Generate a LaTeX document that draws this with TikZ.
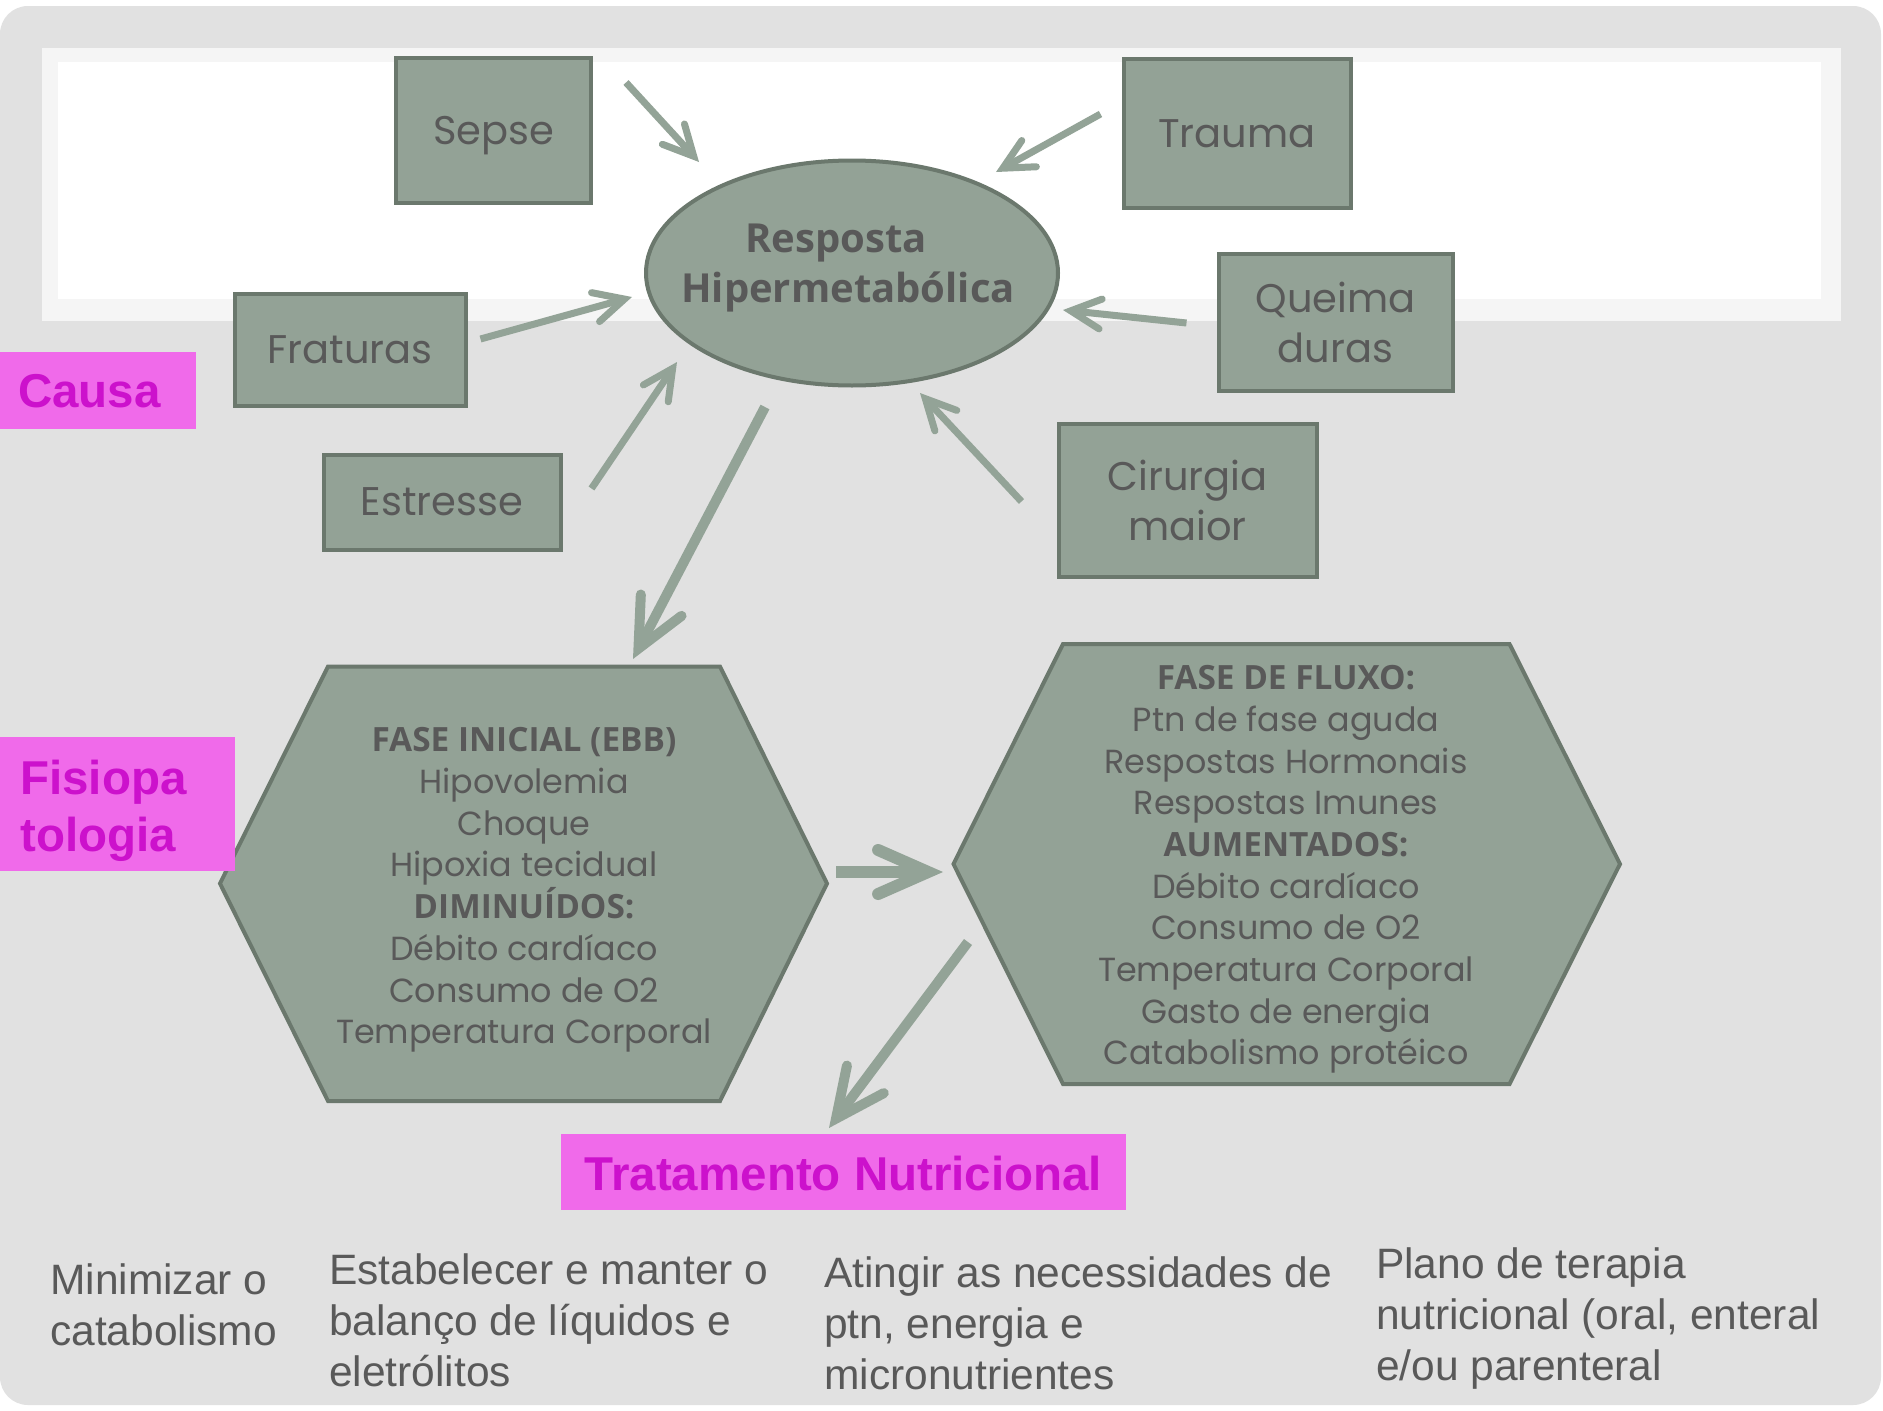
\documentclass[tikz,border=0pt]{standalone}
\usepackage{fontspec}
\setmainfont{Poppins}
\newfontfamily\hexbf{Open Sans}
\newfontfamily\ellf{Open Sans}
\newfontfamily\arialf{Liberation Sans}
\usetikzlibrary{arrows.meta,calc,shapes.geometric}
\definecolor{bgpage}{HTML}{E1E1E1}
\definecolor{bandlight}{HTML}{F5F5F5}
\definecolor{boxfill}{HTML}{93A296}
\definecolor{boxline}{HTML}{6B786D}
\definecolor{arrcol}{HTML}{93A397}
\definecolor{txtgray}{HTML}{595959}
\definecolor{pinkfill}{HTML}{F06AEA}
\definecolor{pinktext}{HTML}{CC11CC}
\tikzset{
  causebox/.style={draw=boxline, fill=boxfill, line width=4pt, inner sep=0pt, text=txtgray, align=center, font=\fontsize{40}{50}\selectfont},
  hexshape/.style={draw=boxline, fill=boxfill, line width=4pt, line join=miter},
  hextext/.style={text=txtgray, align=center, inner sep=0pt, font=\fontsize{33.4}{41.7}\selectfont},
  arrsmall/.style={draw=arrcol, line width=7pt, -{Straight Barb[length=30pt,width=30pt,line cap=round,line join=miter]}},
  arrbig/.style={draw=arrcol, line width=10pt, -{Straight Barb[length=49pt,width=46pt,line cap=round,line join=miter]}},
  arrwide/.style={draw=arrcol, line width=12pt, -{Straight Barb[length=50pt,width=44pt,line cap=round,line join=miter]}},
  pinklab/.style={fill=pinkfill, text=pinktext, inner sep=0pt, font=\arialf\bfseries\fontsize{47.5}{57}\selectfont},
  goaltext/.style={text=txtgray, align=left, inner sep=0pt, anchor=north west, font=\arialf\fontsize{42.5}{51}\selectfont},
}
\begin{document}
\begin{tikzpicture}[x=1pt,y=-1pt]
\useasboundingbox (0,0) rectangle (1883,1411);
\fill[white] (0,0) rectangle (1883,1411);
\fill[bgpage, rounded corners=28pt] (0,6) rectangle (1881,1405);
\fill[bandlight] (42,48) rectangle (1841,321);
\fill[white] (58,62) rectangle (1821,299);

% cause boxes
\node[causebox, minimum width=195pt, minimum height=145pt, text depth=0pt] (sepse) at (493.5,130) {Sepse};
\node[causebox, minimum width=227pt, minimum height=149pt] (trauma) at (1237,133.5) {Trauma};
\node[causebox, minimum width=231pt, minimum height=112pt] (fraturas) at (350,350) {Fraturas};
\node[causebox, minimum width=234pt, minimum height=137pt] (queim) at (1335.5,322.5) {Queima\\duras};
\node[causebox, minimum width=237pt, minimum height=95pt] (estresse) at (442,502) {Estresse};
\node[causebox, minimum width=258pt, minimum height=153pt] (cirurgia) at (1187.5,500) {Cirurgia\\maior};

% central ellipse
\node[ellipse, draw=boxline, fill=boxfill, line width=4pt, minimum width=412pt, minimum height=225pt, inner sep=0pt] (resp) at (852,273) {};
\node[text=txtgray, align=center, inner sep=0pt, font=\ellf\bfseries\fontsize{40}{50}\selectfont] (resplab) at (848,268) {Resposta\hspace*{24pt}\\Hipermetabólica};

% hexagons
\coordinate (ebbc) at (523.5,883.5);
\draw[hexshape] ($(ebbc)+(-303.5,0)$) -- ($(ebbc)+(-195.5,-217)$) -- ($(ebbc)+(196.5,-217)$) -- ($(ebbc)+(303.5,0)$) -- ($(ebbc)+(196.5,217.5)$) -- ($(ebbc)+(-195.5,217.5)$) -- cycle;
\node[hextext] (ebb) at (524,890) {{\hexbf\bfseries FASE INICIAL (EBB)}\\Hipovolemia\\Choque\\Hipoxia tecidual\\{\hexbf\bfseries DIMINUÍDOS:}\\Débito cardíaco\\Consumo de O2\\Temperatura Corporal};

\coordinate (fluxc) at (1286.75,864);
\draw[hexshape] ($(fluxc)+(-333.25,0)$) -- ($(fluxc)+(-223.75,-220)$) -- ($(fluxc)+(222.75,-220)$) -- ($(fluxc)+(333.25,0)$) -- ($(fluxc)+(222.75,220)$) -- ($(fluxc)+(-223.75,220)$) -- cycle;
\node[hextext] (flux) at (1286,869.5) {{\hexbf\bfseries FASE DE FLUXO:}\\Ptn de fase aguda\\Respostas Hormonais\\Respostas Imunes\\{\hexbf\bfseries AUMENTADOS:}\\Débito cardíaco\\Consumo de O2\\Temperatura Corporal\\Gasto de energia\\Catabolismo protéico};

% pink labels
\node[pinklab, minimum width=196pt, minimum height=77pt, anchor=north west, text width=160pt, inner xsep=18pt, align=left] (causa) at (0,352) {Causa};
\node[pinklab, minimum width=235pt, minimum height=134pt, anchor=north west, text width=195pt, inner xsep=20pt, align=left] (fisio) at (0,737) {\rule{0pt}{47pt}Fisiopa\\tologia};
\node[pinklab, minimum width=565pt, minimum height=76pt, align=center] (trat) at (843.5,1172) {\rule{0pt}{38pt}Tratamento Nutricional};

% goals
\node[goaltext] (g1) at (50,1263) {Minimizar o\\catabolismo};
\node[goaltext] (g2) at (329,1253) {Estabelecer e manter o\\balanço de líquidos e\\eletrólitos};
\node[goaltext] (g3) at (824,1256) {Atingir as necessidades de\\ptn, energia e\\micronutrientes};
\node[goaltext] (g4) at (1376,1247) {Plano de terapia\\nutricional (oral, enteral\\e/ou parenteral};

% arrows into the response
\draw[arrsmall] ($(sepse.north east)+(33,27)$) -- ($(resp.center)+(-153,-111)$);
\draw[arrsmall] ($(trauma.north west)+(-21,57)$) -- ($(resp.center)+(144,-101)$);
\draw[arrsmall] ($(fraturas.east)+(13,-11)$) -- ($(resp.center)+(-220,24)$);
\draw[arrsmall] ($(queim.west)+(-30,0.5)$) -- ($(resp.center)+(211,37)$);
\draw[arrsmall] ($(estresse.east)+(29,-13.5)$) -- ($(resp.center)+(-175,89)$);
\draw[arrsmall] ($(cirurgia.west)+(-35,1.5)$) -- ($(resp.center)+(68,120)$);

% flow arrows
\draw[arrbig] ($(resp.center)+(-87,134)$) -- ($(ebbc)+(109.5,-224.5)$);
\draw[arrwide] ($(ebbc)+(312.5,-11.5)$) -- ($(fluxc)+(-343.75,8)$);
\draw[arrbig] ($(fluxc)+(-318.75,78)$) -- ($(trat.center)+(-14.5,-44)$);
\end{tikzpicture}
\end{document}
